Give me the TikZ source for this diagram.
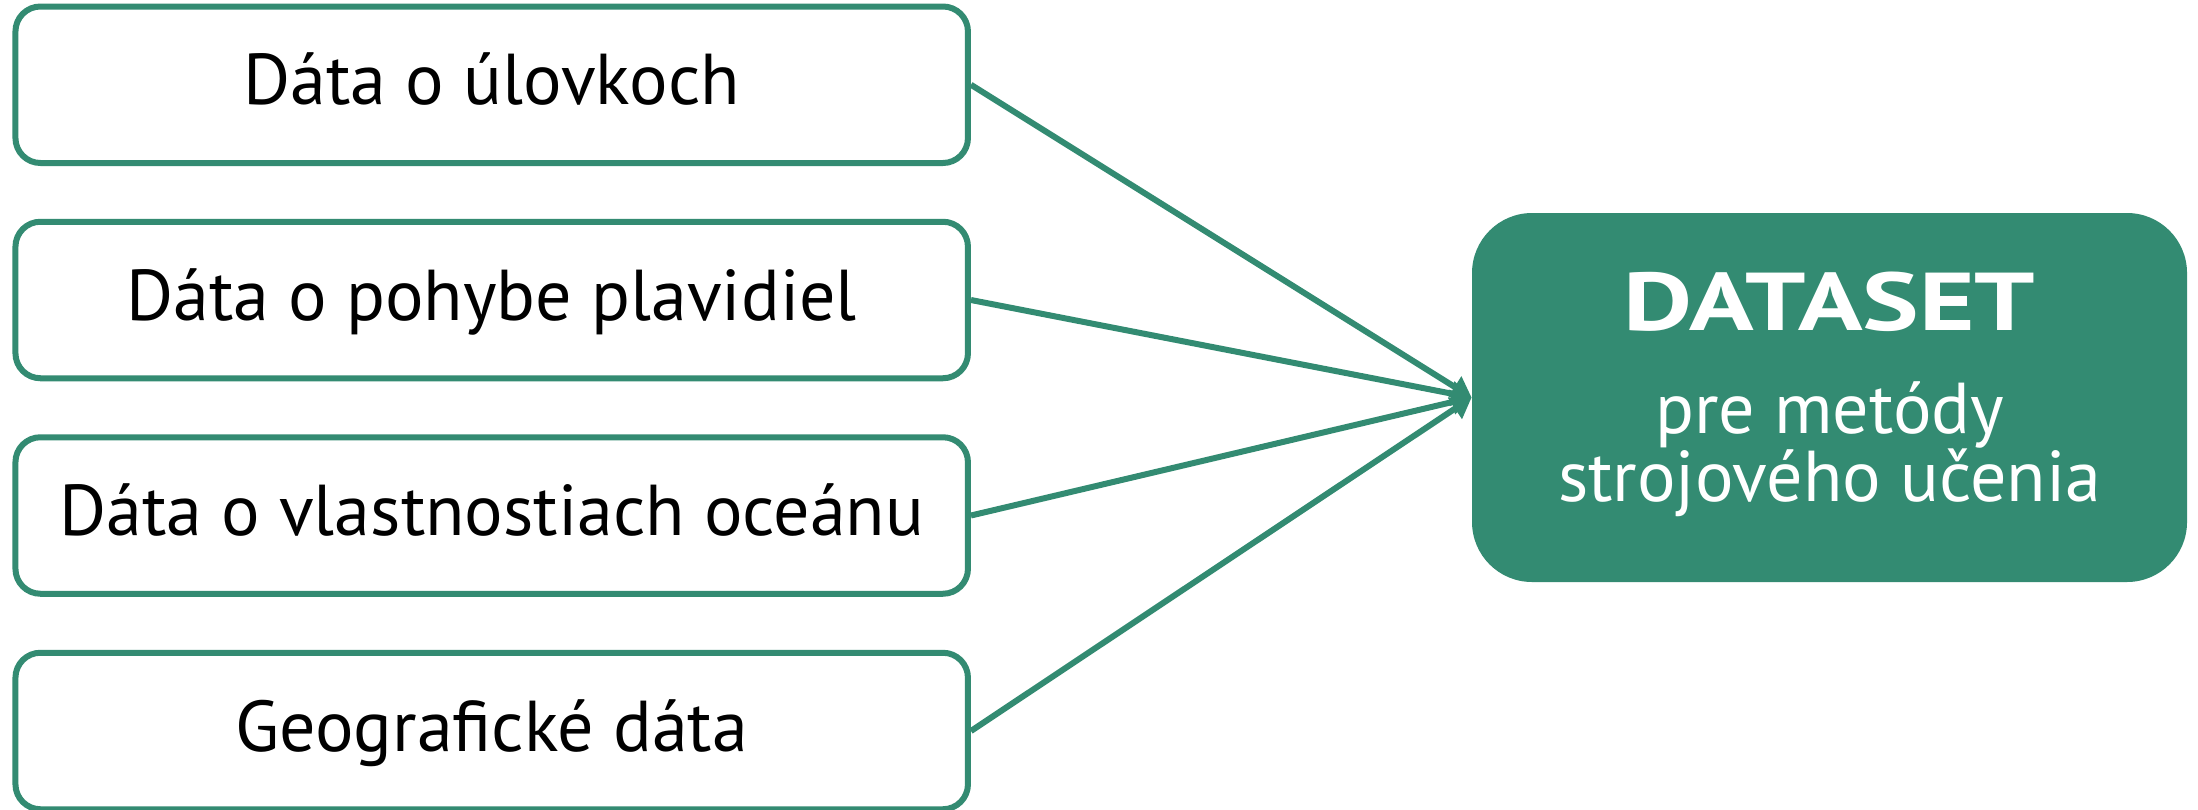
\documentclass[tikz,border=0pt]{standalone}
\usepackage{fontspec}
\setmainfont{PT Sans}
\newfontfamily\widebold{PT Sans Bold}[FakeStretch=1.3]
\usetikzlibrary{arrows.meta}
\definecolor{dsgreen}{RGB}{51,139,114}
\begin{document}
\begin{tikzpicture}[x=0.5pt,y=-0.5pt,
  srcbox/.style={draw=dsgreen, line width=3pt, rounded corners=12.5pt, fill=white,
    minimum width=476.25pt, minimum height=78.25pt, inner sep=0pt,
    text height=25pt, text depth=5pt, font=\fontsize{36}{42}\selectfont},
  dsbox/.style={fill=dsgreen, rounded corners=30pt, minimum width=357.5pt,
    minimum height=184.5pt, inner sep=0pt},
  dstext/.style={text=white, anchor=base, inner sep=0pt},
  link/.style={draw=dsgreen, line width=3pt, -{Triangle[length=10pt,width=12pt]}}]
\useasboundingbox (0,0) rectangle (2198,809);
\node[srcbox] (b1) at (491.7,84.75) {Dáta o úlovkoch};
\node[srcbox] (b2) at (491.7,300) {Dáta o pohybe plavidiel};
\node[srcbox] (b3) at (491.7,515.5) {Dáta o vlastnostiach oceánu};
\node[srcbox] (b4) at (491.7,731) {Geografické dáta};
\node[dsbox] (ds) at (1829.5,397.5) {};
\node[dstext, font=\widebold\fontsize{41}{48}\selectfont] (t0) at (1829.5,330) {DATASET};
\node[dstext, font=\fontsize{36}{42}\selectfont] (t1) at (1829.5,433) {pre metódy};
\node[dstext, font=\fontsize{36}{42}\selectfont] (t2) at (1829.5,501) {strojového učenia};
\draw[link] (b1.east) -- (ds.west);
\draw[link] (b2.east) -- (ds.west);
\draw[link] (b3.east) -- (ds.west);
\draw[link] (b4.east) -- (ds.west);
\end{tikzpicture}
\end{document}
